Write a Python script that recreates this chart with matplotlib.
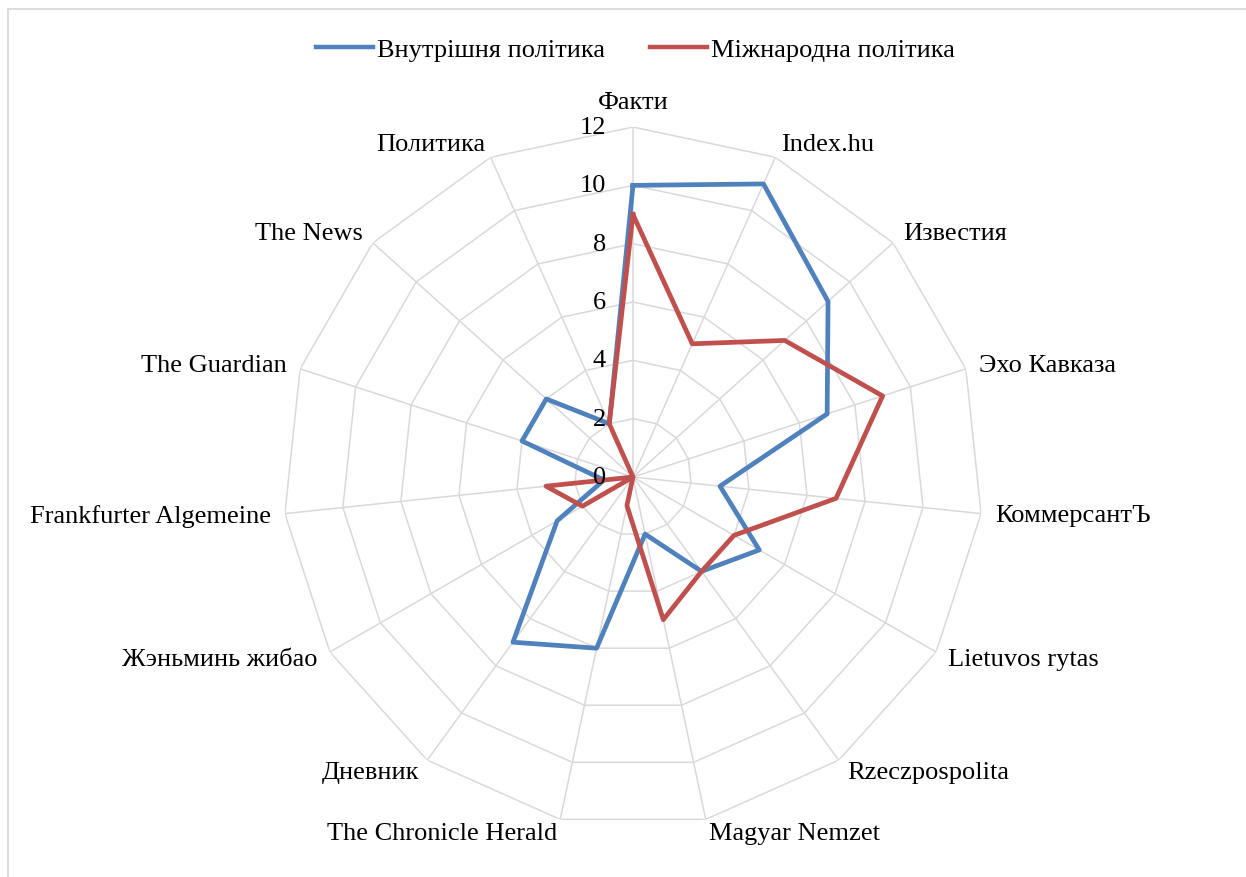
import numpy as np
import matplotlib.pyplot as plt
from matplotlib.lines import Line2D
from matplotlib.patches import Rectangle

plt.rcParams['font.family'] = ['Liberation Serif', 'DejaVu Serif']

categories = ['Факти', 'Index.hu', 'Известия', 'Эхо Кавказа', 'КоммерсантЪ',
              'Lietuvos rytas', 'Rzeczpospolita', 'Magyar Nemzet',
              'The Chronicle Herald', 'Дневник', 'Жэньминь жибао',
              'Frankfurter Algemeine', 'The Guardian', 'The News', 'Политика']
domestic = [10, 11, 9, 7, 3, 5, 4, 2, 6, 7, 3, 1, 4, 4, 2]
foreign = [9, 5, 7, 9, 7, 4, 4, 5, 1, 0, 2, 3, 0, 0, 2]
series_names = ['Внутрішня політика', 'Міжнародна політика']
ticks = [0, 2, 4, 6, 8, 10, 12]

blue = '#4F81BD'
red = '#C0504D'
grid_col = '#D9D9D9'

fig = plt.figure(figsize=(12.46, 8.78), dpi=100)
# chart border, cut off at the right and bottom like the original
fig.patches.append(Rectangle((0.0064, -0.02), 1.05, 1.0086, transform=fig.transFigure,
                             fill=False, edgecolor=grid_col, linewidth=1.3))

ax = fig.add_axes([0.2271, 0.0569, 0.5618, 0.7973], projection='polar')
ax.set_theta_zero_location('N')
ax.set_theta_direction(-1)
ax.set_ylim(0, 12)
ax.grid(False)
ax.spines['polar'].set_visible(False)
ax.set_xticks([])
ax.set_yticks([])
ax.patch.set_alpha(0)

n = len(categories)
theta = np.arange(n) * 2 * np.pi / n
theta_c = np.append(theta, theta[0])

for v in ticks[1:]:
    ax.plot(theta_c, [v] * (n + 1), color=grid_col, lw=1.1, zorder=1)
for t in theta:
    ax.plot([t, t], [0, ticks[-1]], color=grid_col, lw=1.1, zorder=1)

ax.plot(theta_c, domestic + domestic[:1], color=blue, lw=3.4, zorder=3)
ax.plot(theta_c, foreign + foreign[:1], color=red, lw=3.4, zorder=3)

for v in ticks:
    ax.annotate(str(v), xy=(0, v), xytext=(-27, 0), textcoords='offset pixels',
                ha='right', va='center', fontsize=19, zorder=5)

for t, name in zip(theta, categories):
    s, c = np.sin(t), np.cos(t)
    if abs(s) < 1e-6:
        ha = 'center'
    else:
        ha = 'left' if s > 0 else 'right'
    va = 'bottom' if (abs(s) < 1e-6 and c > 0) else 'center'
    ax.annotate(name, xy=(t, ticks[-1]), xytext=(14 * s, 14 * c),
                textcoords='offset pixels', ha=ha, va=va, fontsize=19)

handles = [Line2D([], [], color=blue, lw=3.2), Line2D([], [], color=red, lw=3.2)]
fig.legend(handles, series_names, loc='center', bbox_to_anchor=(0.51, 0.943),
           ncol=2, frameon=False, fontsize=19, handlelength=2.15,
           handletextpad=0.15, columnspacing=1.7)

fig.savefig('out.png', dpi=100)
